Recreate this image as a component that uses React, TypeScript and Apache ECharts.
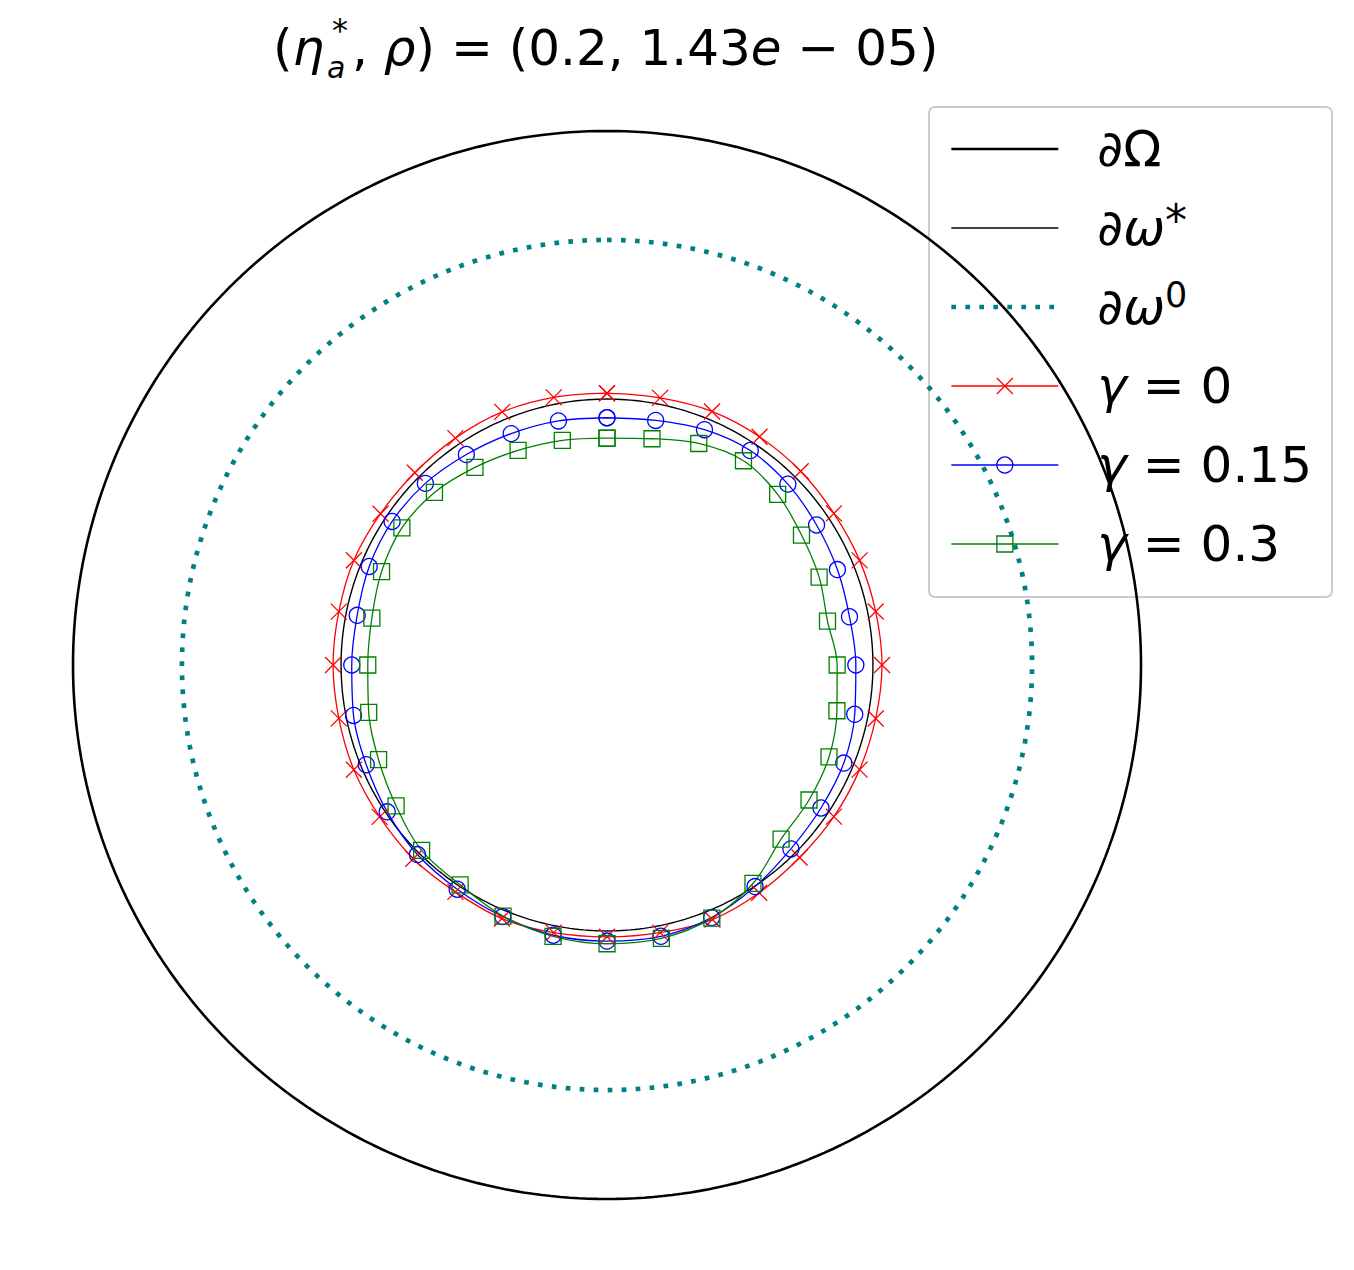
import React, { useEffect, useRef } from 'react';
import * as echarts from 'echarts';

const FONT = 'DejaVu Sans';

// Marker angles in degrees, clockwise from the top of the picture
const MARKER_ANGLES = [
  0, 11.25, 22.5, 33.75, 45, 56.25, 67.5, 78.75,
  90, 101.25, 112.5, 123.75, 135, 146.25, 157.5, 168.75,
  180, 191.25, 202.5, 213.75, 225, 236.25, 247.5, 258.75,
  270, 281.25, 292.5, 303.75, 315, 326.25, 337.5, 348.75,
];

// Radii (outer boundary ∂Ω = 1) read at each marker angle
const R_GAMMA_0 = [
  0.509, 0.510, 0.514, 0.514, 0.513, 0.511, 0.512, 0.513,
  0.515, 0.513, 0.512, 0.511, 0.510, 0.513, 0.516, 0.511,
  0.509, 0.511, 0.514, 0.511, 0.513, 0.512, 0.513, 0.512,
  0.513, 0.512, 0.513, 0.510, 0.509, 0.511, 0.513, 0.511,
];
const R_GAMMA_015 = [
  0.463, 0.467, 0.477, 0.483, 0.479, 0.472, 0.467, 0.463,
  0.466, 0.473, 0.480, 0.482, 0.487, 0.499, 0.512, 0.518,
  0.517, 0.516, 0.510, 0.505, 0.502, 0.495, 0.488, 0.484,
  0.478, 0.477, 0.482, 0.484, 0.481, 0.474, 0.469, 0.466,
];
const R_GAMMA_03 = [
  0.425, 0.432, 0.449, 0.460, 0.452, 0.438, 0.430, 0.421,
  0.431, 0.439, 0.450, 0.455, 0.461, 0.492, 0.513, 0.522,
  0.522, 0.518, 0.509, 0.495, 0.491, 0.475, 0.463, 0.455,
  0.448, 0.449, 0.457, 0.462, 0.457, 0.445, 0.435, 0.429,
];

// Circles
const R_OMEGA = 1.0;
const R_OMEGA_STAR = 0.498;
const R_OMEGA_0 = 0.796;
const CIRCLE_ANGLES = Array.from({ length: 361 }, (_, i) => i);

const SERIES_NAMES = ['∂Ω', '∂ω*', '∂ω0', 'γ=0', 'γ=0.15', 'γ=0.3'];
const LEGEND_LABELS: Record<string, string> = {
  '∂Ω': '{sp| }{n|∂Ω}',
  '∂ω*': '{sp| }{n|∂}{i|ω}{ast|*}',
  '∂ω0': '{sp| }{n|∂}{i|ω}{sup|0}',
  'γ=0': '{sp| }{i|γ}{n| = 0}',
  'γ=0.15': '{sp| }{i|γ}{n| = 0.15}',
  'γ=0.3': '{sp| }{i|γ}{n| = 0.3}',
};

const X_SYMBOL = 'path://M0,0L10,10M10,0L0,10';
const CLEAR = 'rgba(0,0,0,0)';

const UNIT_PX = 534; // pixels per unit radius
const RADIUS_MAX = 1.05;

function circleSeries(name: string, r: number, lineStyle: any) {
  return {
    type: 'line',
    name,
    coordinateSystem: 'polar',
    data: CIRCLE_ANGLES.map((a) => [r, a]),
    symbol: 'none',
    showSymbol: false,
    clip: false,
    silent: true,
    lineStyle,
    itemStyle: { color: lineStyle.color },
  };
}

function markerSeries(name: string, radii: number[], color: string, symbol: string) {
  const pts = MARKER_ANGLES.map((a, i) => [radii[i], a]);
  pts.push([radii[0], 360]);
  return {
    type: 'line',
    name,
    coordinateSystem: 'polar',
    data: pts,
    symbol,
    symbolSize: 16,
    showSymbol: true,
    smooth: 0.35,
    clip: false,
    silent: true,
    lineStyle: { color, width: 1.3 },
    itemStyle: { color: symbol === X_SYMBOL ? color : CLEAR, borderColor: color, borderWidth: 1.3 },
  };
}

export default function App() {
  const ref = useRef<HTMLDivElement>(null);
  useEffect(() => {
    if (!ref.current) return;
    const chart = echarts.init(ref.current, undefined, { renderer: 'svg' });
    const textCommon = { fontFamily: FONT, fill: '#000' };
    chart.setOption({
      animation: false,
      backgroundColor: '#ffffff',
      polar: { center: [607, 665], radius: UNIT_PX * RADIUS_MAX },
      angleAxis: {
        type: 'value', min: 0, max: 360, startAngle: 90, clockwise: true,
        axisLine: { show: false }, axisTick: { show: false }, axisLabel: { show: false }, splitLine: { show: false },
      },
      radiusAxis: {
        type: 'value', min: 0, max: RADIUS_MAX,
        axisLine: { show: false }, axisTick: { show: false }, axisLabel: { show: false }, splitLine: { show: false },
      },
      legend: {
        orient: 'vertical',
        left: 949,
        top: 119,
        padding: 0,
        itemGap: 19,
        itemWidth: 107,
        itemHeight: 20,
        selectedMode: false,
        itemStyle: { borderWidth: 1.3 },
        data: [
          { name: SERIES_NAMES[0], itemStyle: { opacity: 0 }, lineStyle: { width: 2.6 } },
          { name: SERIES_NAMES[1], itemStyle: { opacity: 0 }, lineStyle: { width: 1.3 } },
          { name: SERIES_NAMES[2], itemStyle: { opacity: 0 }, lineStyle: { width: 4.7 } },
          { name: SERIES_NAMES[3], lineStyle: { width: 1.3 } },
          { name: SERIES_NAMES[4], lineStyle: { width: 1.3 } },
          { name: SERIES_NAMES[5], lineStyle: { width: 1.3 } },
        ],
        formatter: (name: string) => LEGEND_LABELS[name] || name,
        textStyle: {
          fontFamily: FONT, fontSize: 50, color: '#000', lineHeight: 60,
          rich: {
            sp: { width: 34, fontSize: 50, lineHeight: 60 },
            n: { fontFamily: FONT, fontSize: 50, lineHeight: 60, color: '#000' },
            i: { fontFamily: FONT, fontSize: 50, lineHeight: 60, fontStyle: 'italic', color: '#000' },
            sup: { fontFamily: FONT, fontSize: 35, lineHeight: 24, verticalAlign: 'top', color: '#000' },
            ast: { fontFamily: FONT, fontSize: 44, lineHeight: 32, verticalAlign: 'top', color: '#000' },
          },
        },
      },
      graphic: {
        elements: [
          {
            type: 'rect', z: 3, silent: true,
            shape: { x: 929, y: 107, width: 403, height: 490, r: 6 },
            style: { fill: '#ffffff', stroke: '#cccccc', lineWidth: 2 },
          },
          {
            type: 'text', z: 5, x: 273, y: 48, silent: true,
            style: {
              ...textCommon, text: '({i|η}', fontSize: 50,
              align: 'left', verticalAlign: 'middle', textAlign: 'left', textVerticalAlign: 'middle',
              rich: { i: { fontFamily: FONT, fontSize: 50, fontStyle: 'italic', fill: '#000' } },
            },
          },
          {
            type: 'text', z: 5, x: 327, y: 15, silent: true,
            style: {
              ...textCommon, text: '{sup|*}\n{sub|a}', fontSize: 30,
              align: 'left', verticalAlign: 'top', textAlign: 'left', textVerticalAlign: 'top',
              rich: {
                sup: { fontFamily: FONT, fontSize: 32, lineHeight: 30, fill: '#000', padding: [0, 0, 0, 5] },
                sub: { fontFamily: FONT, fontSize: 30, lineHeight: 44, fontStyle: 'italic', fill: '#000' },
              },
            },
          },
          {
            type: 'text', z: 5, x: 352, y: 48, silent: true,
            style: {
              ...textCommon, text: ', {i|ρ}) = (0.2, 1.43{i|e} − 05)', fontSize: 50,
              align: 'left', verticalAlign: 'middle', textAlign: 'left', textVerticalAlign: 'middle',
              rich: { i: { fontFamily: FONT, fontSize: 50, fontStyle: 'italic', fill: '#000' } },
            },
          },
        ],
      },
      series: [
        circleSeries(SERIES_NAMES[0], R_OMEGA, { color: '#000000', width: 2.6 }),
        circleSeries(SERIES_NAMES[1], R_OMEGA_STAR, { color: '#000000', width: 1.4 }),
        circleSeries(SERIES_NAMES[2], R_OMEGA_0, { color: '#008080', width: 4.7, type: [4.7, 9.3] }),
        markerSeries(SERIES_NAMES[3], R_GAMMA_0, '#ff0000', X_SYMBOL),
        markerSeries(SERIES_NAMES[4], R_GAMMA_015, '#0000ff', 'circle'),
        markerSeries(SERIES_NAMES[5], R_GAMMA_03, '#008000', 'rect'),
      ],
    });
    return () => chart.dispose();
  }, []);
  return (
    <div
      ref={ref}
      style={{ position: 'absolute', left: 0, top: 0, width: 1354, height: 1270, background: '#fff' }}
    />
  );
}
